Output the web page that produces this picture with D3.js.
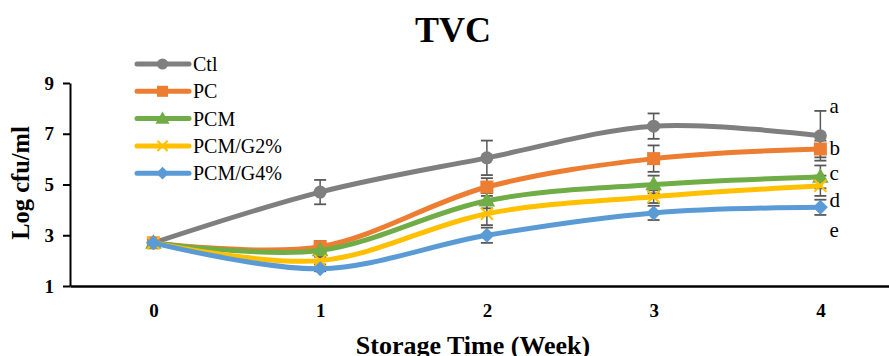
<!DOCTYPE html>
<html>
<head>
<meta charset="utf-8">
<script src="https://cdn.jsdelivr.net/npm/d3@7"></script>
<style>
  html, body { margin: 0; padding: 0; background: #fff; }
  svg { display: block; }
  svg text { font-family: 'Liberation Serif', 'Times New Roman', serif !important; }
</style>
</head>
<body>
<svg id="chart" width="889" height="356"></svg>
<script>
// ---- data ----
const weeks = [0, 1, 2, 3, 4];
const seriesNames = ["Ctl", "PC", "PCM", "PCM/G2%", "PCM/G4%"];
const ctl      = [2.7, 4.7, 6.05, 7.3, 6.92];
const pc       = [2.7, 2.55, 4.9, 6.02, 6.4];
const pcm      = [2.7, 2.4, 4.36, 5.0, 5.3];
const pcmG2    = [2.7, 2.0, 3.85, 4.52, 4.95];
const pcmG4    = [2.7, 1.68, 3.0, 3.88, 4.1];
const ctlErr   = [0.05, 0.48, 0.68, 0.5, 0.98];
const pcErr    = [0.05, 0.22, 0.35, 0.52, 0.33];
const pcmErr   = [0.05, 0.15, 0.3, 0.35, 0.45];
const pcmG2Err = [0.05, 0.15, 0.45, 0.25, 0.4];
const pcmG4Err = [0.05, 0.1, 0.3, 0.28, 0.3];
const yTicks   = [1, 3, 5, 7, 9];
const sigLetters = ["a", "b", "c", "d", "e"];
const sigLetterY = [7.8, 6.16, 5.17, 4.11, 2.94];
const titleText = "TVC";
const xTitle = "Storage Time (Week)";
const yTitle = "Log cfu/ml";

// ---- styling ----
const FONT = "'Liberation Serif', 'Times New Roman', serif";
const colors  = ["#7F7F7F", "#ED7D31", "#70AD47", "#FFC000", "#5B9BD5"];
const symbols = ["circle", "square", "triangle", "x", "diamond"];
const values  = [ctl, pc, pcm, pcmG2, pcmG4];
const errs    = [ctlErr, pcErr, pcmErr, pcmG2Err, pcmG4Err];

const series = seriesNames.map((name, i) => ({
  name, color: colors[i], symbol: symbols[i],
  points: weeks.map((w, j) => ({ w, v: values[i][j], e: errs[i][j] }))
}));

const svg = d3.select("#chart");
const plotLeft = 70, plotRight = 903.75, plotTop = 83, plotBottom = 286;

const x = d3.scaleLinear().domain([-0.5, 4.5]).range([plotLeft, plotRight]);
const y = d3.scaleLinear().domain([1, 9]).range([plotBottom, plotTop]);

// title
svg.append("text")
  .attr("x", 453).attr("y", 42)
  .attr("text-anchor", "middle")
  .attr("font-family", FONT)
  .attr("font-size", 36).attr("font-weight", "bold")
  .text(titleText);

// y axis
const yAxis = svg.append("g")
  .attr("transform", `translate(${plotLeft},0)`)
  .call(d3.axisLeft(y).tickValues(yTicks).tickSizeInner(7).tickSizeOuter(0).tickPadding(9).tickFormat(d3.format("d")));
yAxis.attr("font-family", FONT);
yAxis.select(".domain").attr("stroke", "#000").attr("stroke-width", 2);
yAxis.selectAll(".tick line").attr("stroke", "#000").attr("stroke-width", 2);
yAxis.selectAll(".tick text")
  .attr("font-family", FONT)
  .attr("font-size", 19).attr("font-weight", "bold").attr("fill", "#000");

// x axis
const xAxis = svg.append("g")
  .attr("transform", `translate(0,${plotBottom})`)
  .call(d3.axisBottom(x).tickValues(weeks).tickSizeInner(0).tickSizeOuter(0).tickPadding(18).tickFormat(d3.format("d")));
xAxis.attr("font-family", FONT);
xAxis.select(".domain").attr("stroke", "#000").attr("stroke-width", 2.5);
xAxis.selectAll(".tick text")
  .attr("font-family", FONT)
  .attr("font-size", 19).attr("font-weight", "bold").attr("fill", "#000");

// axis titles
svg.append("text")
  .attr("x", 473).attr("y", 354)
  .attr("text-anchor", "middle")
  .attr("font-family", FONT)
  .attr("font-size", 26).attr("font-weight", "bold")
  .text(xTitle);
svg.append("text")
  .attr("transform", `translate(29,183) rotate(-90)`)
  .attr("text-anchor", "middle")
  .attr("font-family", FONT)
  .attr("font-size", 24.5).attr("font-weight", "bold")
  .text(yTitle);

// significance letters
svg.append("g").selectAll("text")
  .data(sigLetters)
  .join("text")
  .attr("x", x(4) + 9)
  .attr("y", (d, i) => y(sigLetterY[i]))
  .attr("font-family", FONT)
  .attr("font-size", 21)
  .text(d => d);

// error bars
const errColor = "#595959";
const capW = 6;
const eg = svg.append("g");
series.forEach(s => {
  s.points.forEach(p => {
    const cx = x(p.w), y1 = y(p.v + p.e), y2 = y(p.v - p.e);
    eg.append("line").attr("x1", cx).attr("x2", cx).attr("y1", y1).attr("y2", y2)
      .attr("stroke", errColor).attr("stroke-width", 1.5);
    [y1, y2].forEach(yy => eg.append("line")
      .attr("x1", cx - capW).attr("x2", cx + capW).attr("y1", yy).attr("y2", yy)
      .attr("stroke", errColor).attr("stroke-width", 1.8));
  });
});

// lines
const line = d3.line()
  .x(d => x(d.w)).y(d => y(d.v))
  .curve(d3.curveCatmullRom.alpha(0));

function drawMarker(g, sym, cx, cy, color, scale) {
  const k = scale || 1;
  if (sym === "circle") {
    g.append("circle").attr("cx", cx).attr("cy", cy).attr("r", 6.5 * k).attr("fill", color);
  } else if (sym === "square") {
    g.append("rect").attr("x", cx - 6.5 * k).attr("y", cy - 6.5 * k)
      .attr("width", 13 * k).attr("height", 13 * k).attr("fill", color);
  } else if (sym === "triangle") {
    g.append("path").attr("d", d3.symbol(d3.symbolTriangle, 120 * k * k)()).attr("transform", `translate(${cx},${cy + 1})`).attr("fill", color);
  } else if (sym === "x") {
    const r = 6 * k;
    g.append("path").attr("d", `M${cx - r},${cy - r}L${cx + r},${cy + r}M${cx - r},${cy + r}L${cx + r},${cy - r}`)
      .attr("stroke", color).attr("stroke-width", 2).attr("fill", "none");
  } else if (sym === "diamond") {
    const r = 7.5 * k;
    g.append("path").attr("d", `M${cx},${cy - r}L${cx + r},${cy}L${cx},${cy + r}L${cx - r},${cy}Z`).attr("fill", color);
  }
}

const lg = svg.append("g");
series.forEach(s => {
  lg.append("path")
    .datum(s.points)
    .attr("d", line)
    .attr("fill", "none")
    .attr("stroke", s.color)
    .attr("stroke-width", 5)
    .attr("stroke-linecap", "round");
  const mg = lg.append("g");
  s.points.forEach(p => drawMarker(mg, s.symbol, x(p.w), y(p.v), s.color));
});

// legend
const legend = svg.append("g");
series.forEach((s, i) => {
  const ly = 64 + i * 27.3;
  const row = legend.append("g");
  row.append("line").attr("x1", 137).attr("x2", 189).attr("y1", ly).attr("y2", ly)
    .attr("stroke", s.color).attr("stroke-width", 5).attr("stroke-linecap", "round");
  drawMarker(row, s.symbol, 162.5, ly, s.color, 0.85);
  row.append("text").attr("x", 193).attr("y", ly + 7)
    .attr("font-family", FONT)
    .attr("font-size", 20).text(s.name);
});
</script>
</body>
</html>
